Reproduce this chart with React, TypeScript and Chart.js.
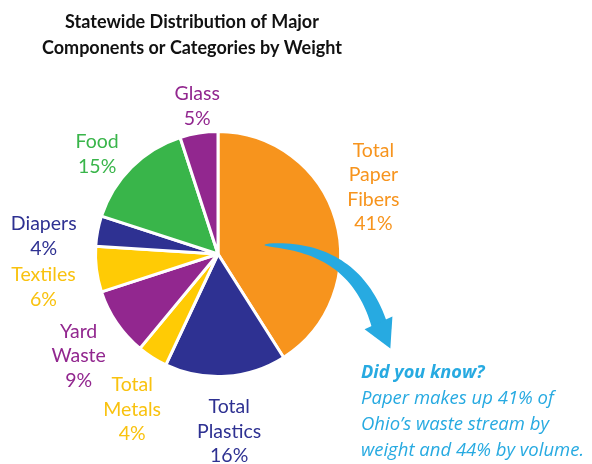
import React, { useEffect, useRef } from "react";
import { Chart, registerables } from "chart.js";

Chart.register(...registerables);

const categories = [
  "Total Paper Fibers",
  "Total Plastics",
  "Total Metals",
  "Yard Waste",
  "Textiles",
  "Diapers",
  "Food",
  "Glass",
];
const values = [41, 16, 4, 9, 6, 4, 15, 5];
const labelLines = [
  ["Total", "Paper", "Fibers"],
  ["Total", "Plastics"],
  ["Total", "Metals"],
  ["Yard", "Waste"],
  ["Textiles"],
  ["Diapers"],
  ["Food"],
  ["Glass"],
];
const titleLines = ["Statewide Distribution of Major", "Components or Categories by Weight"];
const noteTitle = "Did you know?";
const noteLines = ["Paper makes up 41% of", "Ohio\u2019s waste stream by", "weight and 44% by volume."];

// styling / layout (not data)
const sliceColors = ["#F7941D", "#2E3192", "#FFCB05", "#92278F", "#FFCB05", "#2E3192", "#39B54A", "#92278F"];
const textColors = ["#F7941D", "#2E3192", "#F9C20F", "#92278F", "#F9C20F", "#2E3192", "#39B54A", "#92278F"];
// per label: angular nudge (deg), distance as factor of radius
const labelNudge = [-7, 0, -3.5, -2, -3.5, -5, -5.4, 1];
const labelDist = [1.38, 1.45, 1.45, 1.41, 1.45, 1.43, 1.28, 1.22];
const CYAN = "#27AAE1";

const overlayPlugin = {
  id: "overlay",
  afterDraw(chart: any) {
    const ctx = chart.ctx as CanvasRenderingContext2D;
    const meta = chart.getDatasetMeta(0);
    const arcs = meta.data;
    if (!arcs.length) return;
    const cx = arcs[0].x;
    const cy = arcs[0].y;
    const R = arcs[0].outerRadius;

    ctx.save();
    // title
    ctx.fillStyle = "#111";
    ctx.font = "bold 18px Lato";
    ctx.textAlign = "center";
    ctx.textBaseline = "middle";
    titleLines.forEach((t, i) => ctx.fillText(t, 192, 22 + i * 26));

    // slice labels
    const lineH = 24.5;
    ctx.font = "19.5px Lato";
    arcs.forEach((arc: any, i: number) => {
      const mid = (arc.startAngle + arc.endAngle) / 2 + (labelNudge[i] * Math.PI) / 180;
      const d = R * labelDist[i];
      const px = cx + Math.cos(mid) * d;
      const py = cy + Math.sin(mid) * d;
      const lines = [...labelLines[i], `${values[i]}%`];
      const top = py - ((lines.length - 1) * lineH) / 2;
      ctx.fillStyle = textColors[i];
      lines.forEach((l, k) => ctx.fillText(l, px, top + k * lineH));
    });

    // curved arrow (relative to pie geometry)
    const P = (x: number, y: number) => [cx + x * R, cy + y * R];
    const p0 = P(0.382, -0.073);
    const p1 = P(1.114, -0.073);
    const p2 = P(1.317, 0.577);
    const tip = P(1.407, 0.772);
    const N = 40;
    const left: number[][] = [];
    const right: number[][] = [];
    for (let s = 0; s <= N; s++) {
      const t = s / N;
      const x = (1 - t) * (1 - t) * p0[0] + 2 * (1 - t) * t * p1[0] + t * t * p2[0];
      const y = (1 - t) * (1 - t) * p0[1] + 2 * (1 - t) * t * p1[1] + t * t * p2[1];
      const dx = 2 * (1 - t) * (p1[0] - p0[0]) + 2 * t * (p2[0] - p1[0]);
      const dy = 2 * (1 - t) * (p1[1] - p0[1]) + 2 * t * (p2[1] - p1[1]);
      const len = Math.hypot(dx, dy) || 1;
      const nx = -dy / len;
      const ny = dx / len;
      const w = (1 + 15 * Math.pow(t, 0.55)) / 2;
      left.push([x + nx * w, y + ny * w]);
      right.push([x - nx * w, y - ny * w]);
    }
    ctx.fillStyle = CYAN;
    ctx.beginPath();
    left.forEach((p, k) => (k === 0 ? ctx.moveTo(p[0], p[1]) : ctx.lineTo(p[0], p[1])));
    for (let k = right.length - 1; k >= 0; k--) ctx.lineTo(right[k][0], right[k][1]);
    ctx.closePath();
    ctx.fill();
    // head
    const hx = tip[0] - p2[0];
    const hy = tip[1] - p2[1];
    const hl = Math.hypot(hx, hy);
    const nx = -hy / hl;
    const ny = hx / hl;
    const hw = R * 0.125;
    const bx = p2[0] - (hx / hl) * 2;
    const by = p2[1] - (hy / hl) * 2;
    ctx.beginPath();
    ctx.moveTo(bx + nx * hw, by + ny * hw);
    ctx.lineTo(tip[0], tip[1]);
    ctx.lineTo(bx - nx * hw, by - ny * hw);
    ctx.closePath();
    ctx.fill();

    // note
    ctx.textAlign = "left";
    ctx.fillStyle = CYAN;
    ctx.font = "italic bold 18.2px 'Open Sans'";
    ctx.fillText(noteTitle, 361, 373);
    ctx.font = "italic 18.5px 'Open Sans'";
    noteLines.forEach((l, i) => ctx.fillText(l, 361, 399 + i * 26));
    ctx.restore();
  },
};

export default function App() {
  const ref = useRef<HTMLCanvasElement | null>(null);
  useEffect(() => {
    if (!ref.current) return;
    const chart = new Chart(ref.current, {
      type: "pie",
      data: {
        labels: categories,
        datasets: [
          {
            data: values,
            backgroundColor: sliceColors,
            borderColor: "#ffffff",
            borderWidth: 3,
          },
        ],
      },
      options: {
        animation: false,
        responsive: false,
        devicePixelRatio: 1,
        layout: { padding: { left: 94, top: 130, right: 250, bottom: 86 } },
        plugins: { legend: { display: false }, tooltip: { enabled: false }, title: { display: false } },
      },
      plugins: [overlayPlugin],
    });
    return () => chart.destroy();
  }, []);
  return (
    <div style={{ position: "fixed", left: 0, top: 0, width: 592, height: 464, background: "#fff" }}>
      <canvas ref={ref} width={592} height={464} style={{ width: 592, height: 464 }} />
    </div>
  );
}
